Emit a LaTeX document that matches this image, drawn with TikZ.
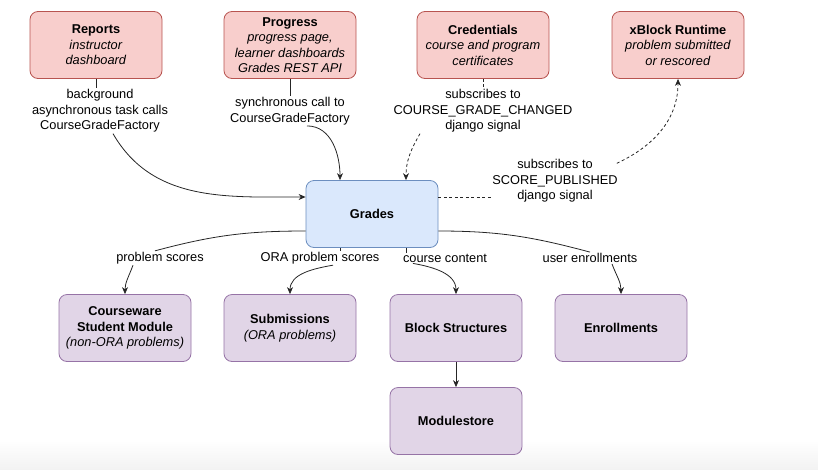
\documentclass[tikz,border=0pt]{standalone}
\usepackage{fontspec}
\setmainfont{Liberation Sans}
\usepackage{tikz}
\usetikzlibrary{arrows.meta,shapes,calc}
\usetikzlibrary{positioning}
\definecolor{callfill}{HTML}{F8CECC}
\definecolor{callline}{HTML}{B85450}
\definecolor{gradefill}{HTML}{DAE8FC}
\definecolor{gradeline}{HTML}{6C8EBF}
\definecolor{datafill}{HTML}{E1D5E7}
\definecolor{dataline}{HTML}{9673A6}
\newcommand\txt{\fontsize{12.8}{15.5}\selectfont}
\tikzset{
  box/.style={draw, rounded corners=8pt, minimum width=132pt, minimum height=67pt,
    align=center, line width=0.8pt, font=\txt},
  caller/.style={box, draw=callline, fill=callfill},
  grader/.style={box, draw=gradeline, fill=gradefill},
  store/.style={box, draw=dataline, fill=datafill},
  lbl/.style={fill=white, inner sep=1pt, align=center, font=\txt},
  wire/.style={line width=0.8pt, black!85},
  call/.style={wire, -{Stealth[length=7pt,width=6pt]}},
  signal/.style={wire, dash pattern=on 3pt off 2.5pt},
  sigcall/.style={signal, -{Stealth[length=7pt,width=6pt]}}
}

\begin{document}
\begin{tikzpicture}[x=1pt,y=-1pt]
  \useasboundingbox (0,0) rectangle (818,469);
  \shade[top color=white, bottom color=black!5] (0,440) rectangle (818,469);

  % callers
  \node[caller] (rep) at (96,45) {\textbf{Reports}\\\textit{instructor}\\\textit{dashboard}};
  \node[caller] (prog) at (290,45) {\textbf{Progress}\\\textit{progress page,}\\\textit{learner dashboards}\\\textit{Grades REST API}};
  \node[caller] (cred) at (483,45) {\textbf{Credentials}\\\textit{course and program}\\\textit{certificates}};
  \node[caller] (xblk) at (678,45) {\textbf{xBlock Runtime}\\\textit{problem submitted}\\\textit{or rescored}};

  \node[grader] (grades) at (372,214) {\textbf{Grades}};

  % data sources
  \node[store] (csm) at (125,328) {\textbf{Courseware}\\\textbf{Student Module}\\\textit{(non-ORA problems)}};
  \node[store] (subm) at (290,328) {\textbf{Submissions}\\\textit{(ORA problems)}};
  \node[store] (bstr) at (456,328) {\textbf{Block Structures}};
  \node[store] (enrl) at (621,328) {\textbf{Enrollments}};
  \node[store] (mstore) at (456,421) {\textbf{Modulestore}};

  % edge labels
  \node[lbl] (lrep) at (100,111) {background\\asynchronous task calls\\CourseGradeFactory};
  \node[lbl] (lprog) at (290,111) {synchronous call to\\CourseGradeFactory};
  \node[lbl] (lcred) at (483,111) {subscribes to\\COURSE\_GRADE\_CHANGED\\django signal};
  \node[lbl] (lscore) at (555,181) {subscribes to\\SCORE\_PUBLISHED\\django signal};
  \node[lbl] (lps) at (160,258) {problem scores};
  \node[lbl] (lora) at (320,258) {ORA problem scores};
  \node[lbl] (lcc) at (445,258) {course content};
  \node[lbl] (lue) at (590,258) {user enrollments};

  % calls into grades
  \draw[wire] (rep.south) -- (rep.south |- lrep.north);
  \draw[call] ([xshift=13pt]lrep.south) to[out=-60,in=180] ([yshift=17pt]grades.west);
  \draw[wire] (prog.south) -- (prog.south |- lprog.north);
  \draw[call] ([xshift=17pt]lprog.south) to[out=0,in=90] ([xshift=-32pt]grades.north);
  \draw[signal] (cred.south) -- (cred.south |- lcred.north);
  \draw[sigcall] ([xshift=-63pt]lcred.south) to[out=-120,in=90] ([xshift=34pt]grades.north);
  \draw[signal] ([yshift=17pt]grades.east) -- ([yshift=17pt]grades.east -| lscore.west);
  \draw[sigcall] ([xshift=-2pt,yshift=-5pt]lscore.north east) to[out=25,in=-90] (xblk.south);

  % grades reads from
  \draw[wire] ([yshift=-17pt]grades.west) to[out=180,in=15] ([xshift=-5pt]lps.north);
  \draw[call] ([xshift=-27pt]lps.south) to[out=-110,in=90] (csm.north);
  \draw[wire] ([xshift=-32pt]grades.south) -- ([xshift=-32pt]grades.south |- lora.north);
  \draw[call] ([xshift=13pt]lora.south) to[out=190,in=90] (subm.north);
  \draw[wire] ([xshift=34pt]grades.south) -- ([xshift=34pt]grades.south |- lcc.north);
  \draw[call] ([xshift=-32pt]lcc.south) to[out=-10,in=90] (bstr.north);
  \draw[wire] ([yshift=-17pt]grades.east) to[out=0,in=165] (lue.north);
  \draw[call] ([xshift=22pt]lue.south) to[out=-70,in=90] (enrl.north);
  \draw[call] (bstr) -- (mstore);
\end{tikzpicture}
\end{document}
